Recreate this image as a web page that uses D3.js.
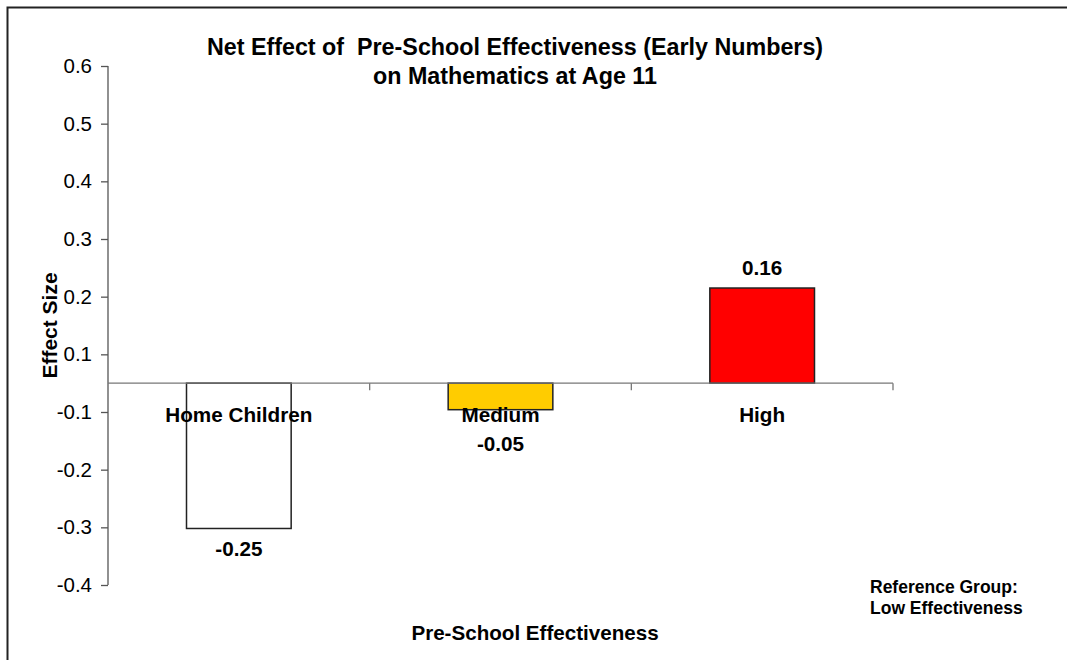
<!DOCTYPE html>
<html>
<head>
<meta charset="utf-8">
<script src="https://cdn.jsdelivr.net/npm/d3@7"></script>
<style>
  html, body { margin: 0; padding: 0; background: #fff; overflow: hidden; }
  svg { display: block; font-family: "Liberation Sans", Arial, sans-serif; }
</style>
</head>
<body>
<svg id="chart" width="1067" height="660"></svg>
<script>
// ---- data ----
const categories = ["Home Children", "Medium", "High"];
const values = [-0.252, -0.046, 0.165];
const valueLabels = ["-0.25", "-0.05", "0.16"];
const barColors = ["#FFFFFF", "#FFCC00", "#FF0000"];
const yTickLabels = ["-0.4", "-0.3", "-0.2", "-0.1", "0.1", "0.2", "0.3", "0.4", "0.5", "0.6"];
const yDomain = [-0.35, 0.55];
const titleLines = ["Net Effect of  Pre-School Effectiveness (Early Numbers)", "on Mathematics at Age 11"];
const xTitle = "Pre-School Effectiveness";
const yTitle = "Effect Size";
const noteLines = ["Reference Group:", "Low Effectiveness"];

// ---- layout ----
const svg = d3.select("#chart");
const plot = { left: 108, right: 893, top: 66, bottom: 585 };
const FONT = "'Liberation Sans', Arial, sans-serif";

// frame
svg.append("rect")
  .attr("x", 7.5).attr("y", 7.5)
  .attr("width", 1100).attr("height", 700)
  .attr("fill", "none").attr("stroke", "#222").attr("stroke-width", 2);

const x = d3.scaleBand()
  .domain(categories)
  .range([plot.left, plot.right])
  .paddingInner(0.6)
  .paddingOuter(0.3);

const y = d3.scaleLinear().domain(yDomain).range([plot.bottom, plot.top]);

// evenly spaced tick labels as printed on the original axis
const yLab = d3.scalePoint().domain(yTickLabels).range([plot.bottom, plot.top]);

// y axis
const yAxis = d3.axisLeft(yLab).tickSize(7).tickPadding(9);
const gy = svg.append("g").attr("transform", `translate(${plot.left},0)`).call(yAxis);
gy.select(".domain").attr("stroke", "#555").attr("stroke-width", 1.3)
  .attr("d", `M0,${plot.top}V${plot.bottom}`);
gy.selectAll(".tick line").attr("stroke", "#555").attr("stroke-width", 1.3);
gy.selectAll(".tick text")
  .attr("font-size", 20.5).attr("fill", "#000")
  .style("font-family", FONT);

// bars
svg.append("g").selectAll("rect")
  .data(values)
  .join("rect")
  .attr("x", (d, i) => x(categories[i]))
  .attr("width", x.bandwidth())
  .attr("y", d => Math.min(y(d), y(0)))
  .attr("height", d => Math.abs(y(d) - y(0)))
  .attr("fill", (d, i) => barColors[i])
  .attr("stroke", "#222").attr("stroke-width", 1.5);

// x axis at zero
const xTicksPos = d3.scaleLinear().domain([0, categories.length]).range([plot.left, plot.right]);
const gx = svg.append("g");
gx.append("line")
  .attr("x1", plot.left).attr("x2", plot.right)
  .attr("y1", y(0)).attr("y2", y(0))
  .attr("stroke", "#777").attr("stroke-width", 1.3);
gx.selectAll("line.t")
  .data(d3.range(1, categories.length + 1))
  .join("line").attr("class", "t")
  .attr("x1", d => xTicksPos(d)).attr("x2", d => xTicksPos(d))
  .attr("y1", y(0)).attr("y2", y(0) + 7)
  .attr("stroke", "#777").attr("stroke-width", 1.3);

// category labels
svg.append("g").selectAll("text")
  .data(categories)
  .join("text")
  .attr("x", d => x(d) + x.bandwidth() / 2)
  .attr("y", y(0) + 38.5)
  .attr("text-anchor", "middle")
  .attr("font-size", 20.7).attr("font-weight", "bold")
  .text(d => d);

// value labels
svg.append("g").selectAll("text")
  .data(values)
  .join("text")
  .attr("x", (d, i) => x(categories[i]) + x.bandwidth() / 2)
  .attr("y", (d, i) => d < 0 ? (i === 1 ? y(d) + 41 : y(d) + 28) : y(d) - 13)
  .attr("text-anchor", "middle")
  .attr("font-size", 20.7).attr("font-weight", "bold")
  .text((d, i) => valueLabels[i]);

// title
svg.append("g").selectAll("text")
  .data(titleLines)
  .join("text")
  .attr("x", 515)
  .attr("y", (d, i) => 55 + i * 29)
  .attr("text-anchor", "middle")
  .attr("font-size", 23.3).attr("font-weight", "bold")
  .style("white-space", "pre")
  .attr("xml:space", "preserve")
  .text(d => d);

// y title
svg.append("text")
  .attr("transform", `translate(57,${(plot.top + plot.bottom) / 2}) rotate(-90)`)
  .attr("text-anchor", "middle")
  .attr("font-size", 21).attr("font-weight", "bold")
  .text(yTitle);

// x title
svg.append("text")
  .attr("x", 535).attr("y", 640)
  .attr("text-anchor", "middle")
  .attr("font-size", 20.6).attr("font-weight", "bold")
  .text(xTitle);

// note
svg.append("g").selectAll("text")
  .data(noteLines)
  .join("text")
  .attr("x", 870)
  .attr("y", (d, i) => 593 + i * 21)
  .attr("font-size", 17.5).attr("font-weight", "bold")
  .text(d => d);
</script>
</body>
</html>
